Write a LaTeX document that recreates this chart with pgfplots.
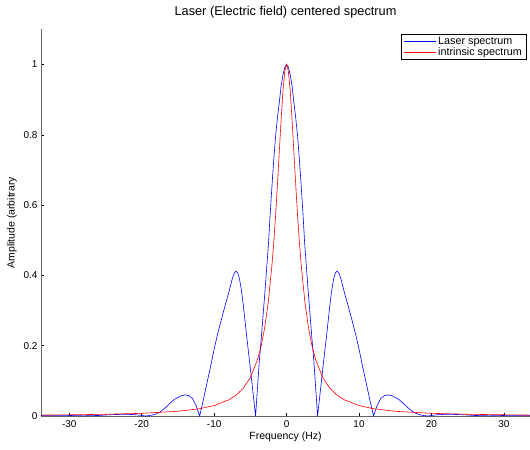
\documentclass[border=0pt]{standalone}
\usepackage{pgfplots}
\pgfplotsset{compat=1.18}
\usepackage{fontspec}
\setmainfont{Liberation Sans}
\definecolor{axgray}{RGB}{100,100,100}
\definecolor{lineblue}{RGB}{0,0,255}
\definecolor{linered}{RGB}{255,0,0}

\begin{document}
\begin{tikzpicture}
\begin{axis}[
    name=ax,
    scale only axis,
    width=489bp, height=386.7bp,
    xmin=-33.9, xmax=33.6,
    ymin=0, ymax=1.1,
    axis x line*=bottom, axis y line*=left,
    axis line style={axgray, line width=0.8pt, -},
    xtick={-30,-20,...,30},
    ytick={0,0.2,...,1},
    yticklabels={0,0.2,0.4,0.6,0.8,1},
    tick align=inside,
    major tick length=3.5bp,
    tick style={black, line width=0.5pt},
    /pgf/number format/assume math mode=true,
    tick label style={font=\fontsize{10}{12}\selectfont},
    xticklabel style={yshift=-1bp},
    title={Laser (Electric field) centered spectrum},
    title style={font=\fontsize{12.8}{15}\selectfont, yshift=2bp},
    xlabel={Frequency (Hz)},
    ylabel={Amplitude (arbitrary},
    label style={font=\fontsize{10.5}{12}\selectfont},
    xlabel style={yshift=2bp},
    ylabel style={yshift=0bp},
    legend style={at={(0.9923,0.988)}, anchor=north east,
        line width=0.6pt, font=\fontsize{10.8}{12.5}\selectfont,
        inner xsep=2pt, inner ysep=0.5pt, row sep=-2pt, legend cell align=left},
    legend image code/.code={\draw[#1] (0bp,0bp) -- (32bp,0bp);},
    clip=true,
]
\addlegendimage{draw=lineblue, line width=0.6pt}
\addlegendentry{Laser spectrum}
\addlegendimage{draw=linered, line width=0.6pt}
\addlegendentry{intrinsic spectrum}
\addplot[lineblue, line width=0.6pt, forget plot] coordinates {
    (-34,0.0015) (-31,0.002) (-28,0.0005) (-26,0.0015) (-24,0.004) (-22,0.005)
    (-20.5,0.003) (-19.5,0) (-19,0.001) (-18.5,0.003) (-18,0.006) (-17.5,0.011)
    (-17,0.019) (-16.5,0.028) (-16,0.038) (-15.5,0.047) (-15,0.053) (-14.5,0.058)
    (-14,0.06) (-13.5,0.058) (-13,0.05) (-12.5,0.03) (-12,0)
    (-11.5,0.045) (-11,0.093) (-10.5,0.14) (-10,0.19) (-9.5,0.235) (-9,0.275)
    (-8.5,0.313) (-8,0.35) (-7.5,0.39) (-7.25,0.405) (-7,0.412) (-6.75,0.408)
    (-6.5,0.39) (-6.25,0.36) (-6,0.32) (-5.5,0.225) (-5,0.135) (-4.6,0.06) (-4.28,0)
    (-4,0.085) (-3.75,0.16) (-3.5,0.22) (-3.25,0.285) (-3,0.35) (-2.75,0.42)
    (-2.5,0.49) (-2.25,0.58) (-2,0.66) (-1.75,0.735) (-1.5,0.8) (-1.25,0.85)
    (-1,0.893) (-0.75,0.94) (-0.5,0.97) (-0.25,0.992) (0,1)
    (0.25,0.992) (0.5,0.97) (0.75,0.94) (1,0.893) (1.25,0.85) (1.5,0.8)
    (1.75,0.735) (2,0.66) (2.25,0.58) (2.5,0.49) (2.75,0.42) (3,0.35)
    (3.25,0.285) (3.5,0.22) (3.75,0.16) (4,0.085) (4.28,0)
    (4.6,0.06) (5,0.135) (5.5,0.225) (6,0.32) (6.25,0.36) (6.5,0.39)
    (6.75,0.408) (7,0.412) (7.25,0.405) (7.5,0.39) (8,0.35) (8.5,0.313)
    (9,0.275) (9.5,0.235) (10,0.19) (10.5,0.14) (11,0.093) (11.5,0.045) (12,0)
    (12.5,0.03) (13,0.05) (13.5,0.058) (14,0.06) (14.5,0.058) (15,0.053)
    (15.5,0.047) (16,0.038) (16.5,0.028) (17,0.019) (17.5,0.011) (18,0.006)
    (18.5,0.003) (19,0.001) (19.5,0) (20.5,0.003) (22,0.005) (24,0.004)
    (26,0.0015) (28,0.0005) (31,0.002) (34,0.0015)
};
\addplot[linered, line width=0.6pt, forget plot] coordinates {
    (-34,0.0026) (-30,0.0034) (-25,0.0049) (-20,0.0076) (-15,0.0134)
    (-12,0.0208) (-10,0.0297) (-8,0.0457) (-7,0.0588) (-6,0.0784)
    (-5,0.109) (-4,0.161) (-3.5,0.2) (-3,0.254) (-2.5,0.329) (-2,0.434)
    (-1.75,0.5) (-1.5,0.576) (-1.25,0.662) (-1,0.754) (-0.75,0.845)
    (-0.5,0.925) (-0.25,0.98) (0,1)
    (0.25,0.98) (0.5,0.925) (0.75,0.845) (1,0.754) (1.25,0.662) (1.5,0.576)
    (1.75,0.5) (2,0.434) (2.5,0.329) (3,0.254) (3.5,0.2) (4,0.161)
    (5,0.109) (6,0.0784) (7,0.0588) (8,0.0457) (10,0.0297) (12,0.0208)
    (15,0.0134) (20,0.0076) (25,0.0049) (30,0.0034) (34,0.0026)
};
\end{axis}
\pgfresetboundingbox
\path ([xshift=-41bp,yshift=-34bp]ax.south west) rectangle ([yshift=29.3bp]ax.north east);
\end{tikzpicture}
\end{document}
